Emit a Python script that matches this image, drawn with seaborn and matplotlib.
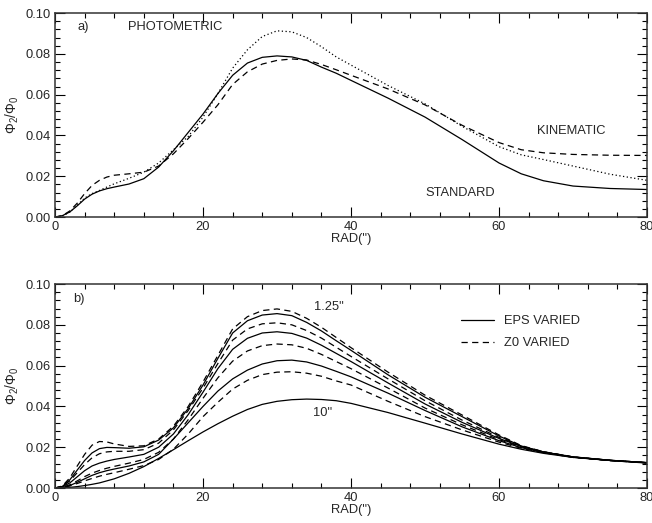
import matplotlib
matplotlib.use("Agg")
import matplotlib.pyplot as plt
import seaborn as sns
from matplotlib.ticker import MultipleLocator, FormatStrFormatter
from matplotlib.lines import Line2D

# radius grid (arcsec) shared by all curves
rad = [0, 1, 2, 3, 4, 5, 6, 7, 8, 10, 12, 14, 16, 18, 20, 22, 24, 26, 28, 30,
       32, 34, 36, 38, 40, 45, 50, 55, 60, 63, 66, 70, 75, 80]

# panel a)
standard = [0, 0.0007, 0.0025, 0.0055, 0.0088, 0.0112, 0.0128, 0.0139, 0.0147, 0.0162,
            0.0188, 0.0245, 0.0325, 0.0415, 0.0505, 0.0605, 0.0695, 0.0755, 0.0783, 0.0790,
            0.0785, 0.0768, 0.0735, 0.0705, 0.0670, 0.0583, 0.0490, 0.0380, 0.0265, 0.0212,
            0.0178, 0.0152, 0.0140, 0.0135]
kinematic = [0, 0.0007, 0.0030, 0.0068, 0.0115, 0.0155, 0.0180, 0.0196, 0.0205, 0.0212,
             0.0220, 0.0250, 0.0310, 0.0385, 0.0465, 0.0550, 0.0650, 0.0712, 0.0750, 0.0768,
             0.0775, 0.0770, 0.0748, 0.0722, 0.0695, 0.0628, 0.0550, 0.0450, 0.0365, 0.0330,
             0.0315, 0.0307, 0.0303, 0.0302]
photometric = [0, 0.0005, 0.0025, 0.0058, 0.0093, 0.0115, 0.0130, 0.0147, 0.0163, 0.0190,
               0.0220, 0.0265, 0.0330, 0.0395, 0.0490, 0.0605, 0.0730, 0.0820, 0.0885, 0.0913,
               0.0908, 0.0880, 0.0835, 0.0785, 0.0745, 0.0645, 0.0555, 0.0445, 0.0345, 0.0305,
               0.0282, 0.0250, 0.0210, 0.0180]

# panel b) EPS varied (solid), highest to lowest
eps_1 = [0, 0.0008, 0.0040, 0.0088, 0.0135, 0.0172, 0.0193, 0.0199, 0.0198, 0.0195,
         0.0202, 0.0235, 0.0295, 0.0390, 0.0505, 0.0635, 0.0760, 0.0820, 0.0848, 0.0855,
         0.0845, 0.0812, 0.0770, 0.0722, 0.0675, 0.0555, 0.0445, 0.0350, 0.0255, 0.0206,
         0.0177, 0.0152, 0.0135, 0.0122]
eps_2 = [0, 0.0006, 0.0025, 0.0055, 0.0085, 0.0108, 0.0122, 0.0132, 0.0140, 0.0152,
         0.0165, 0.0200, 0.0265, 0.0360, 0.0470, 0.0585, 0.0680, 0.0734, 0.0760, 0.0766,
         0.0758, 0.0735, 0.0700, 0.0660, 0.0620, 0.0515, 0.0412, 0.0322, 0.0243, 0.0204,
         0.0177, 0.0152, 0.0136, 0.0124]
eps_3 = [0, 0.0003, 0.0012, 0.0028, 0.0045, 0.0062, 0.0075, 0.0085, 0.0093, 0.0108,
         0.0128, 0.0165, 0.0240, 0.0320, 0.0400, 0.0475, 0.0535, 0.0578, 0.0608, 0.0624,
         0.0627, 0.0618, 0.0598, 0.0572, 0.0545, 0.0465, 0.0380, 0.0300, 0.0232, 0.0198,
         0.0174, 0.0151, 0.0135, 0.0124]
eps_4 = [0, 0.0001, 0.0003, 0.0007, 0.0012, 0.0018, 0.0025, 0.0035, 0.0045, 0.0072,
         0.0105, 0.0145, 0.0188, 0.0232, 0.0275, 0.0315, 0.0352, 0.0385, 0.0410, 0.0425,
         0.0433, 0.0436, 0.0434, 0.0428, 0.0415, 0.0370, 0.0318, 0.0265, 0.0215, 0.0190,
         0.0170, 0.0150, 0.0135, 0.0125]

# panel b) Z0 varied (dashed), highest to lowest
z0_1 = [0, 0.0010, 0.0050, 0.0108, 0.0165, 0.0210, 0.0228, 0.0226, 0.0216, 0.0204,
        0.0207, 0.0240, 0.0303, 0.0400, 0.0520, 0.0650, 0.0780, 0.0840, 0.0870, 0.0878,
        0.0866, 0.0832, 0.0788, 0.0738, 0.0688, 0.0568, 0.0455, 0.0358, 0.0260, 0.0208,
        0.0178, 0.0153, 0.0136, 0.0124]
z0_2 = [0, 0.0008, 0.0035, 0.0075, 0.0115, 0.0148, 0.0168, 0.0177, 0.0180, 0.0180,
        0.0188, 0.0220, 0.0285, 0.0380, 0.0490, 0.0610, 0.0725, 0.0780, 0.0805, 0.0810,
        0.0800, 0.0772, 0.0735, 0.0690, 0.0645, 0.0535, 0.0428, 0.0333, 0.0248, 0.0205,
        0.0177, 0.0152, 0.0136, 0.0124]
z0_3 = [0, 0.0004, 0.0016, 0.0035, 0.0056, 0.0073, 0.0086, 0.0097, 0.0106, 0.0122,
        0.0140, 0.0175, 0.0240, 0.0335, 0.0440, 0.0540, 0.0622, 0.0672, 0.0698, 0.0706,
        0.0702, 0.0685, 0.0655, 0.0620, 0.0585, 0.0490, 0.0392, 0.0310, 0.0237, 0.0202,
        0.0176, 0.0152, 0.0136, 0.0125]
z0_4 = [0, 0.0002, 0.0010, 0.0022, 0.0035, 0.0047, 0.0058, 0.0067, 0.0075, 0.0092,
        0.0110, 0.0140, 0.0190, 0.0265, 0.0350, 0.0420, 0.0485, 0.0528, 0.0556, 0.0568,
        0.0570, 0.0563, 0.0548, 0.0525, 0.0505, 0.0425, 0.0350, 0.0285, 0.0225, 0.0195,
        0.0173, 0.0150, 0.0134, 0.0123]

sns.set_style("ticks")
plt.rcParams['font.family'] = ['Liberation Sans', 'DejaVu Sans']
plt.rcParams['mathtext.fontset'] = 'custom'
plt.rcParams['mathtext.rm'] = 'Liberation Sans'
plt.rcParams['mathtext.it'] = 'Liberation Sans'

fs = 9.3

fig = plt.figure(figsize=(6.52, 5.23), dpi=100)
ax1 = fig.add_axes([0.0844, 0.585, 0.908, 0.390])
ax2 = fig.add_axes([0.0844, 0.0669, 0.908, 0.390])

solid = '-'
dashed = (0, (5, 3.5))
dotted = (0, (1, 2))

# a)
sns.lineplot(x=rad, y=standard, ax=ax1, color='k', lw=0.9, linestyle=solid)
sns.lineplot(x=rad, y=kinematic, ax=ax1, color='k', lw=0.9, linestyle=dashed)
sns.lineplot(x=rad, y=photometric, ax=ax1, color='k', lw=0.9, linestyle=dotted)

ax1.text(3.0, 0.093, 'a)', fontsize=fs, va='center')
ax1.text(9.9, 0.093, 'PHOTOMETRIC', fontsize=fs, va='center')
ax1.text(65.1, 0.042, 'KINEMATIC', fontsize=fs, va='center')
ax1.text(50.0, 0.0118, 'STANDARD', fontsize=fs, va='center')

# b)
for vals in [eps_1, eps_2, eps_3, eps_4]:
    sns.lineplot(x=rad, y=vals, ax=ax2, color='k', lw=0.9, linestyle=solid)
for vals in [z0_1, z0_2, z0_3, z0_4]:
    sns.lineplot(x=rad, y=vals, ax=ax2, color='k', lw=0.9, linestyle=dashed)

ax2.text(2.5, 0.0927, 'b)', fontsize=fs, va='center')
ax2.text(35.0, 0.0885, '1.25"', fontsize=fs, va='center')
ax2.text(34.8, 0.037, '10"', fontsize=fs, va='center')

handles = [Line2D([], [], color='k', lw=0.9, linestyle=solid),
           Line2D([], [], color='k', lw=0.9, linestyle=dashed)]
ax2.legend(handles, ['EPS VARIED', 'Z0 VARIED'], frameon=False, fontsize=fs,
           loc='upper left', bbox_to_anchor=(0.685, 0.848), borderaxespad=0,
           borderpad=0, handlelength=2.6, handletextpad=0.75, labelspacing=0.78)

for ax in (ax1, ax2):
    ax.set_xlim(0, 80)
    ax.set_ylim(0, 0.1)
    ax.xaxis.set_major_locator(MultipleLocator(20))
    ax.xaxis.set_minor_locator(MultipleLocator(4))
    ax.yaxis.set_major_locator(MultipleLocator(0.02))
    ax.yaxis.set_minor_locator(MultipleLocator(0.004))
    ax.yaxis.set_major_formatter(FormatStrFormatter('%.2f'))
    ax.tick_params(which='both', direction='in', top=True, right=True,
                   labelsize=fs, color='k', width=0.8, pad=3)
    ax.tick_params(which='major', length=7)
    ax.tick_params(which='minor', length=3.5)
    for s in ax.spines.values():
        s.set_color('#333333')
        s.set_linewidth(1.1)
    ax.set_xlabel('RAD(")', fontsize=fs, labelpad=0)
    ax.set_ylabel(r'$\Phi_2/\Phi_0$', fontsize=fs + 0.5, labelpad=3)

fig.savefig('out.png', dpi=100)
